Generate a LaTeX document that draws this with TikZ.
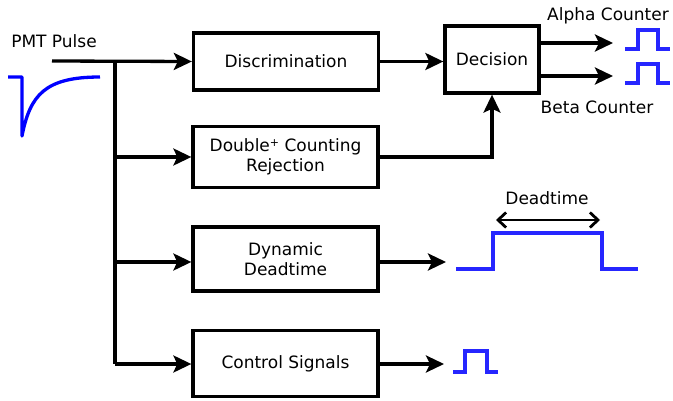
\documentclass[tikz,border=0pt]{standalone}
\usepackage{fontspec}
\setmainfont{DejaVu Sans}
\usetikzlibrary{arrows.meta}
\tikzset{barbtip/.tip={Straight Barb[length=8pt,width=15pt,line width=2.8pt]}}
\begin{document}
\begin{tikzpicture}[x=1pt,y=-1pt,
  blk/.style={draw,line width=3.3pt,minimum width=185pt,align=center,font=\fontsize{17}{20}\selectfont,inner sep=0pt},
  lbl/.style={font=\fontsize{17}{20}\selectfont,inner sep=0pt},
  conn/.style={line width=3.3pt,-{Stealth[length=18pt,width=17pt,inset=4pt]}},
  wire/.style={line width=3.3pt},
  sig/.style={line width=3.3pt,draw=blue!85!white}]
\useasboundingbox (0,0) rectangle (673,401);
\node[blk,minimum height=57pt] (disc) at (286,61.5) {Discrimination};
\node[blk,minimum height=61pt] (dbl) at (285.5,157) {Double{\fontsize{11}{11}\selectfont\raisebox{5pt}{+}} Counting\\Rejection};
\node[blk,minimum height=64pt] (dyn) at (285.5,259) {Dynamic\\Deadtime};
\node[blk,minimum height=66pt] (ctl) at (285.5,363.5) {Control Signals};
\node[blk,minimum width=94pt,minimum height=67pt] (dec) at (492,59.5) {Decision};
\node[lbl] (pmt) at (54,41) {PMT Pulse};
\node[lbl] (alab) at (608,16) {Alpha Counter};
\node[lbl] (blab) at (597,107) {Beta Counter};
\node[lbl] (dlab) at (547,198) {Deadtime};
\coordinate (src) at (52,61);
\coordinate (j1) at (115,61);
\coordinate (j2) at (115,157);
\coordinate (j3) at (115,262);
\coordinate (j4) at (115,364);
\coordinate (ao) at (613,43);
\coordinate (bo) at (613,76);
\coordinate (dyo) at (446,262);
\coordinate (cto) at (444,364);
\draw[conn] (src) -- (disc.west);
\draw[wire] (j1) -- (j4);
\draw[conn] (j2) -- (dbl.west);
\draw[conn] (j3) -- (dyn.west |- j3);
\draw[conn] (j4) -- (ctl.west |- j4);
\draw[conn] (disc.east) -- (dec.west |- disc.east);
\draw[conn] (dbl.east) -| (dec.south);
\draw[conn] (dec.east |- ao) -- (ao);
\draw[conn] (dec.east |- bo) -- (bo);
\draw[conn] (dyn.east |- dyo) -- (dyo);
\draw[conn] (ctl.east |- cto) -- (cto);
% PMT pulse
\draw[line width=3.3pt,draw=blue,line join=round] (8,77) -- (22,77) -- (22,136)
  .. controls (30,95) and (45,77) .. (100,77);
% alpha / beta pulses
\draw[sig] (625,49) -- (638,49) -- (638,30) -- (658,30) -- (658,49) -- (670,49);
\draw[sig] (625,83) -- (638,83) -- (638,64) -- (658,64) -- (658,83) -- (670,83);
% deadtime pulse
\draw[sig] (456,269) -- (493,269) -- (493,233) -- (602,233) -- (602,269) -- (638,269);
\coordinate (dl) at (496,220);
\coordinate (dr) at (600,220);
\draw[line width=2.8pt,barbtip-barbtip] (dl) -- (dr);
% control pulse
\draw[sig] (453,372) -- (465,372) -- (465,351) -- (487,351) -- (487,372) -- (498,372);
\end{tikzpicture}
\end{document}
